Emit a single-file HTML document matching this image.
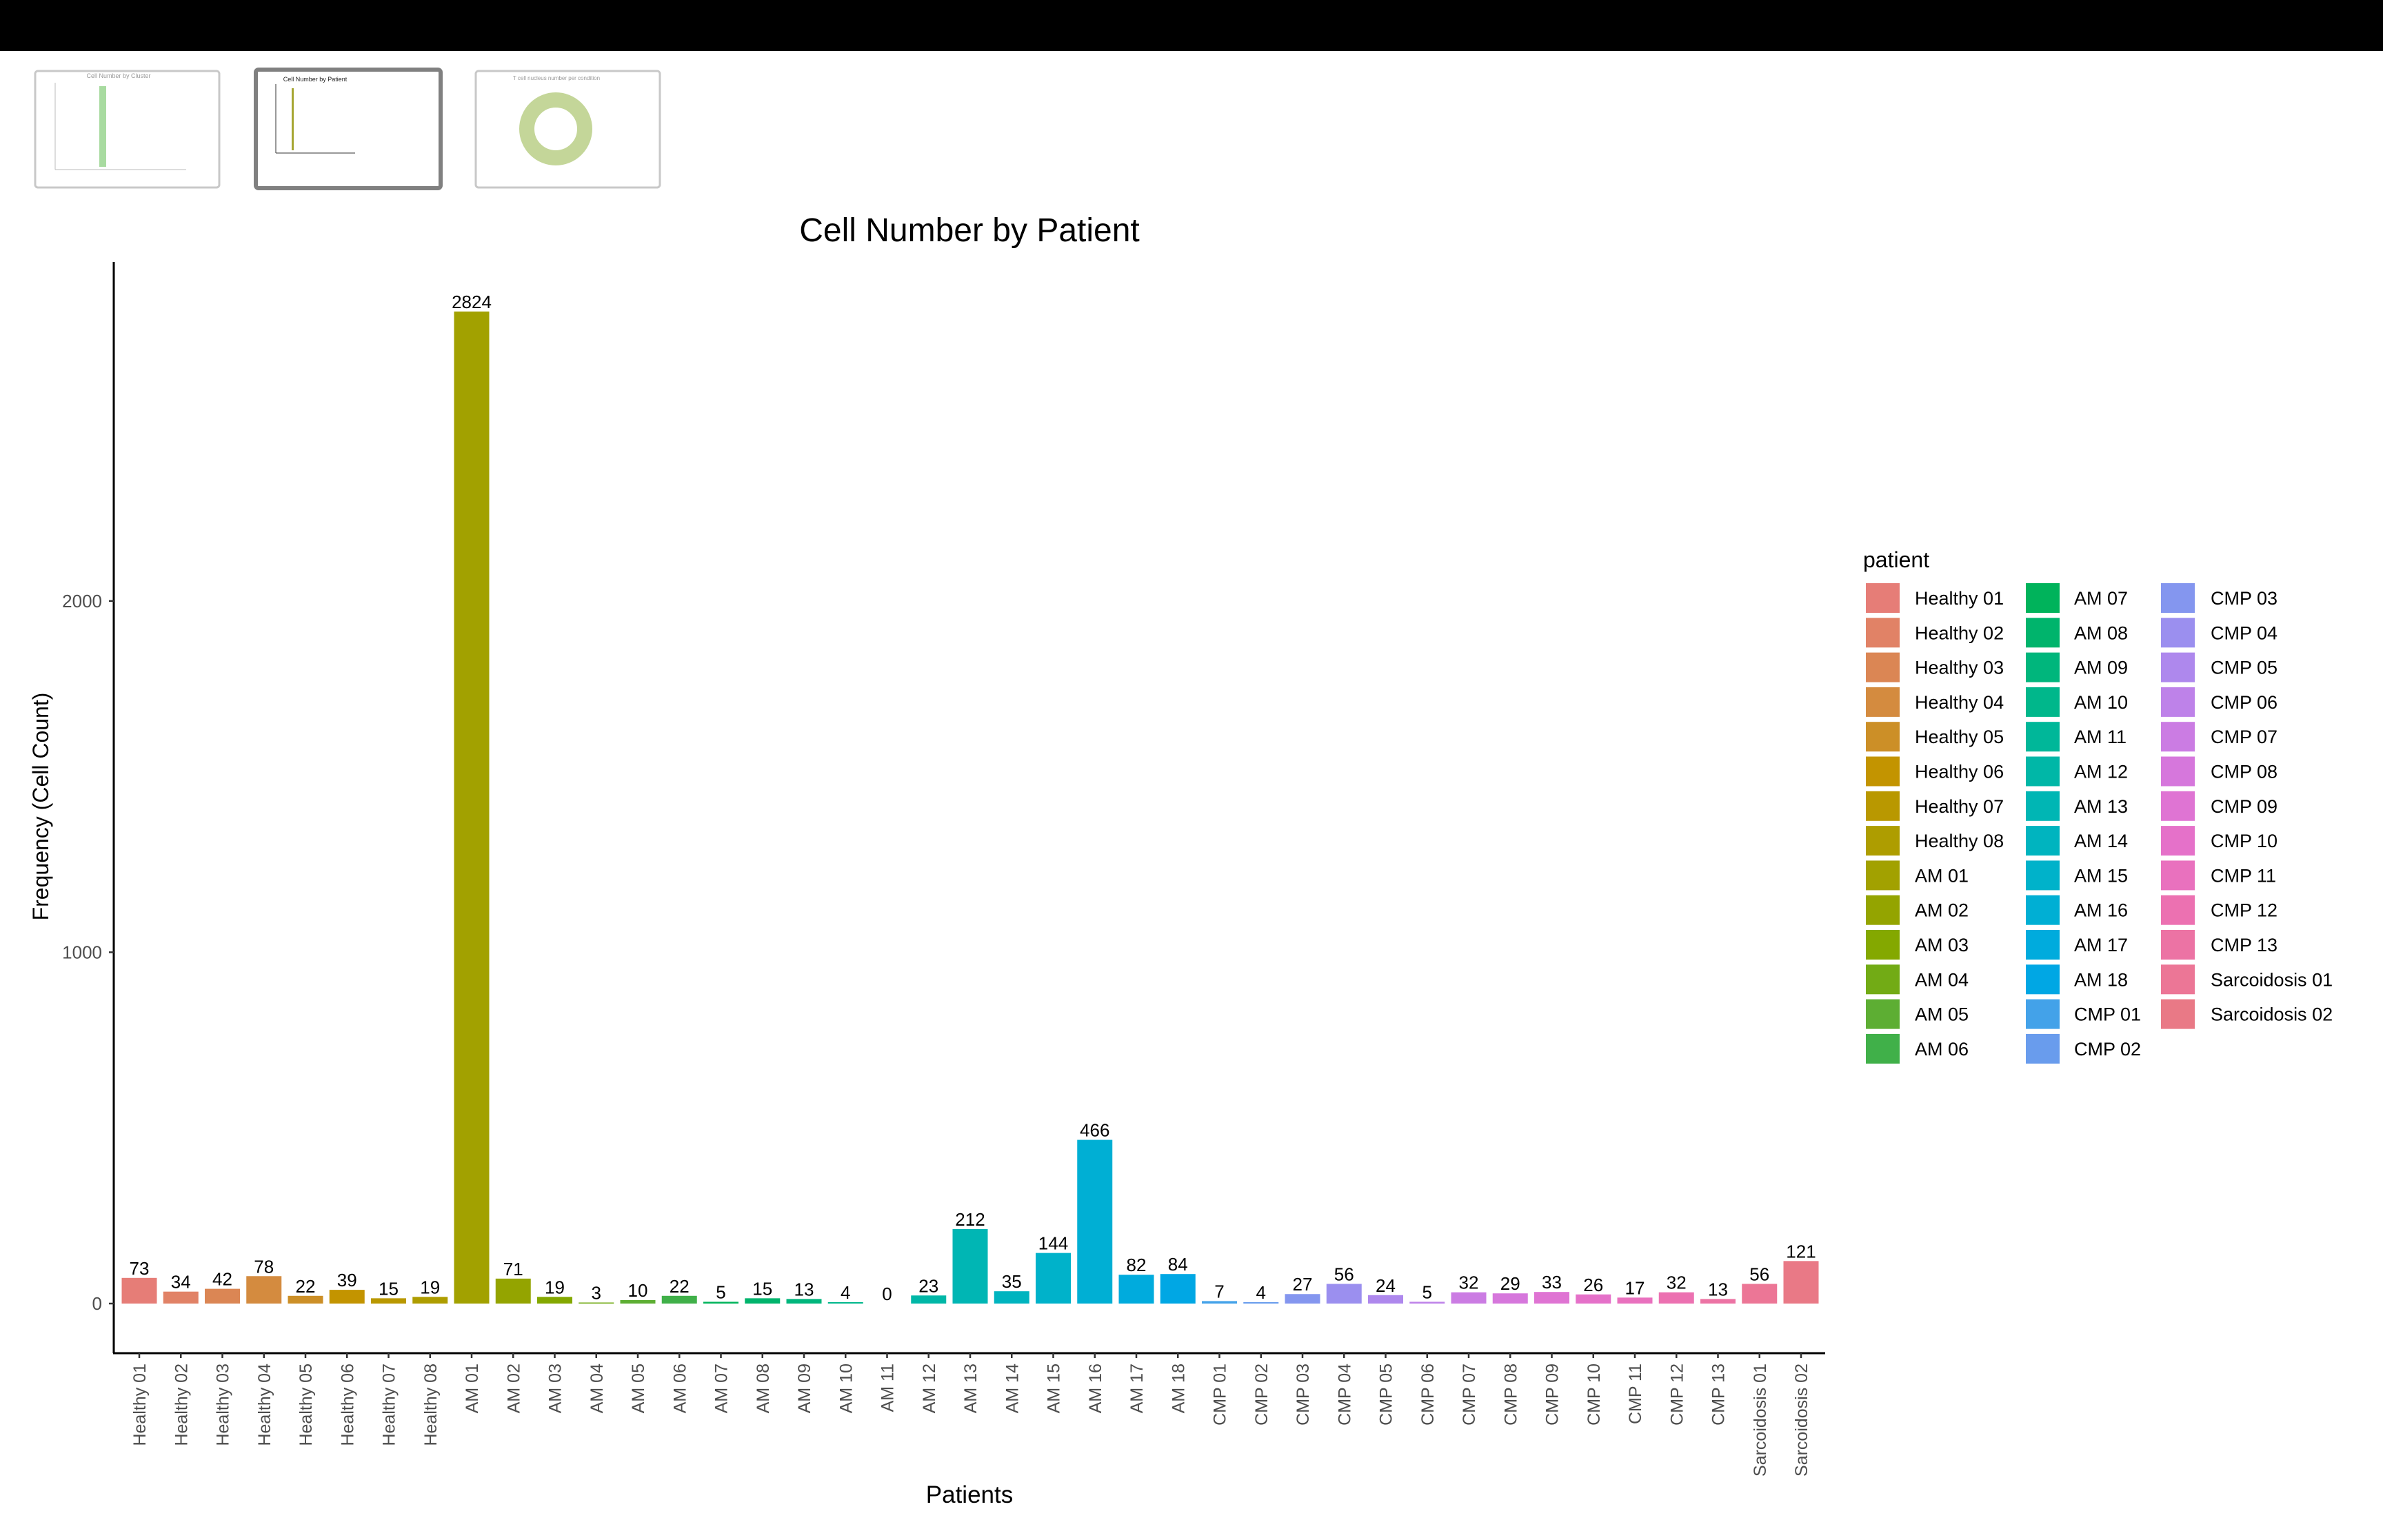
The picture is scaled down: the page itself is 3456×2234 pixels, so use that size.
<!DOCTYPE html>
<html><head><meta charset="utf-8"><style>
html,body{margin:0;padding:0;background:#fff;}
svg{display:block;font-family:"Liberation Sans",Arial,sans-serif;}
</style></head><body>
<svg id="c" width="3456" height="2234" viewBox="0 0 3456 2234" xmlns="http://www.w3.org/2000/svg">
<rect x="0" y="0" width="3456" height="74" fill="#000"/>
<g>
<rect x="51" y="103" width="267" height="169" rx="4" fill="#fff" stroke="#c8c8c8" stroke-width="3"/>
<text x="172" y="113" font-size="9" fill="#999" text-anchor="middle">Cell Number by Cluster</text>
<line x1="80" y1="120" x2="80" y2="246" stroke="#bbb"/><line x1="80" y1="246" x2="270" y2="246" stroke="#bbb"/>
<rect x="144" y="125" width="10" height="117" fill="#a8dba0"/>
</g>
<g>
<rect x="371" y="101" width="268" height="172" rx="4" fill="#fff" stroke="#808080" stroke-width="6"/>
<text x="457" y="118" font-size="9" fill="#222" text-anchor="middle">Cell Number by Patient</text>
<line x1="400" y1="122" x2="400" y2="222" stroke="#333"/><line x1="400" y1="222" x2="515" y2="222" stroke="#333"/>
<rect x="423" y="128" width="3" height="90" fill="#a6a632"/>
</g>
<g>
<rect x="690" y="103" width="267" height="169" rx="4" fill="#fff" stroke="#c8c8c8" stroke-width="3"/>
<text x="807" y="116" font-size="8" fill="#999" text-anchor="middle">T cell nucleus number per condition</text>
<circle cx="806" cy="187" r="42" fill="none" stroke="#c4d699" stroke-width="22"/>
</g>
<text x="1406" y="350" font-size="48" text-anchor="middle" fill="#000">Cell Number by Patient</text>
<text transform="translate(70,1170) rotate(-90)" font-size="32" text-anchor="middle" fill="#000">Frequency (Cell Count)</text>
<text x="1406" y="2180" font-size="35" text-anchor="middle" fill="#000">Patients</text>
<g id="plot"></g>
<g id="legend"></g>
</svg>
<script>
const categories=["Healthy 01","Healthy 02","Healthy 03","Healthy 04","Healthy 05","Healthy 06","Healthy 07","Healthy 08","AM 01","AM 02","AM 03","AM 04","AM 05","AM 06","AM 07","AM 08","AM 09","AM 10","AM 11","AM 12","AM 13","AM 14","AM 15","AM 16","AM 17","AM 18","CMP 01","CMP 02","CMP 03","CMP 04","CMP 05","CMP 06","CMP 07","CMP 08","CMP 09","CMP 10","CMP 11","CMP 12","CMP 13","Sarcoidosis 01","Sarcoidosis 02"];
const counts=[73,34,42,78,22,39,15,19,2824,71,19,3,10,22,5,15,13,4,0,23,212,35,144,466,82,84,7,4,27,56,24,5,32,29,33,26,17,32,13,56,121];
const yTicks=[0,1000,2000];
const NS="http://www.w3.org/2000/svg";
function mk(t,a,p){const e=document.createElementNS(NS,t);for(const k in a)e.setAttribute(k,a[k]);p.appendChild(e);return e;}
function hcl(h,c,l){const r=h*Math.PI/180,u=c*Math.cos(r),v=c*Math.sin(r);
const Xn=95.047,Yn=100,Zn=108.883,d=Xn+15*Yn+3*Zn,un=4*Xn/d,vn=9*Yn/d;
const Y=(l>8?Math.pow((l+16)/116,3):l/903.3)*Yn;const up=u/(13*l)+un,vp=v/(13*l)+vn;
const X=Y*9*up/(4*vp),Z=Y*(12-3*up-20*vp)/(4*vp);const x=X/100,y=Y/100,z=Z/100;
let rgb=[3.2404542*x-1.5371385*y-0.4985314*z,-0.9692660*x+1.8760108*y+0.0415560*z,0.0556434*x-0.2040259*y+1.0572252*z];
return 'rgb('+rgb.map(q=>{q=q<=0.0031308?12.92*q:1.055*Math.pow(q,1/2.4)-0.055;return Math.round(Math.max(0,Math.min(1,q))*255);}).join(',')+')';}
const n=categories.length;
const colors=categories.map((c,i)=>hcl(15+360*i/n,78,64));
function xPos(i){return 202+i*60.25;}
function yPos(v){return 1891-v*0.5096;}
const plot=document.getElementById('plot');
const yAxis=mk('line',{x1:165,y1:380,x2:165,y2:1963,stroke:'#000','stroke-width':3},plot);


const xAxis=mk('line',{x1:164,y1:1963,x2:2647,y2:1963,stroke:'#000','stroke-width':3},plot);


yTicks.forEach(t=>{
 const tk=mk('line',{x1:158,y1:yPos(t),x2:165,y2:yPos(t),stroke:'#333','stroke-width':2.5},plot);
 
 
 const tl=mk('text',{x:148,y:yPos(t)+9,'font-size':26,'text-anchor':'end',fill:'#4d4d4d'},plot);
 tl.textContent=t;
 
 
});
categories.forEach((c,i)=>{
 const x=xPos(i),v=counts[i];
 const b=mk('rect',{x:x-25.5,y:yPos(v),width:51,height:Math.max(0,yPos(0)-yPos(v)),fill:colors[i]},plot);
 
 
 const vl=mk('text',{x:x,y:yPos(v)-5,'font-size':26,'text-anchor':'middle',fill:'#000'},plot);
 vl.textContent=v;
 
 
 const tk=mk('line',{x1:x,y1:1963,x2:x,y2:1970,stroke:'#333','stroke-width':2.5},plot);
 
 
 const tl=mk('text',{transform:'translate('+(x+9)+',1978) rotate(-90)','font-size':25,'text-anchor':'end',fill:'#4d4d4d'},plot);
 tl.textContent=c;
 
 
});
const lg=document.getElementById('legend');
const lt=mk('text',{x:2702,y:823,'font-size':32,fill:'#000'},lg);
lt.textContent='patient';


const colX=[2706,2938,3134],labX=[2777,3008,3206];
categories.forEach((c,i)=>{
 const col=Math.floor(i/14),row=i%14,y=846+row*50.3;
 const g=mk('g',{},lg);
 
 
 mk('rect',{x:colX[col],y:y,width:49,height:43,fill:colors[i]},g);
 const t=mk('text',{x:labX[col],y:y+31,'font-size':27,fill:'#000'},g);
 t.textContent=c;
});
</script>
</body></html>
